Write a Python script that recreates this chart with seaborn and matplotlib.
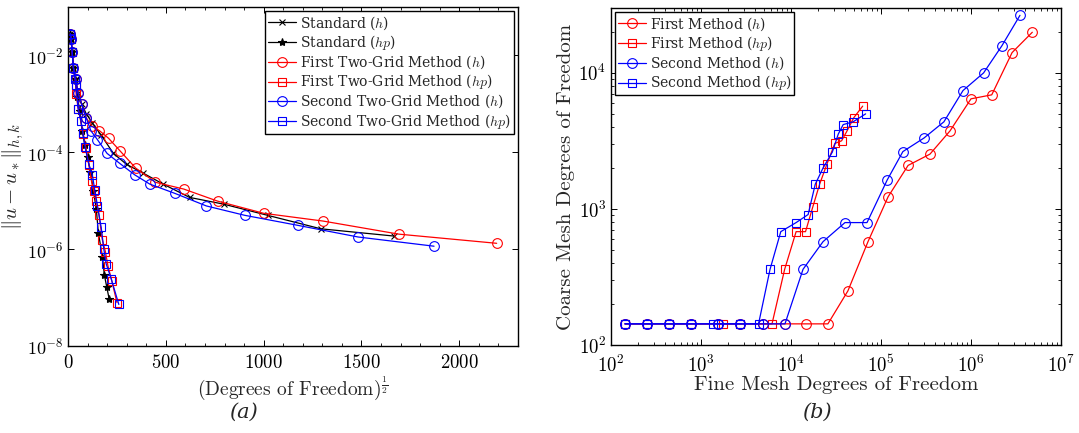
import numpy as np
import matplotlib
matplotlib.use("Agg")
import matplotlib.pyplot as plt
import seaborn as sns
from matplotlib.ticker import FixedLocator, NullLocator, MultipleLocator, LogLocator, NullFormatter

# ---------------- data ----------------
# Standard method (fine DOF, error)
std_h_dof = [143, 249, 441, 767, 1556, 2712, 4850, 8570, 15600, 28900, 53800, 90000,
             148000, 237000, 386000, 632000, 1040000, 1670000, 2780000]
std_h_err = [2.82e-2, 2.14e-2, 1.2e-2, 5.6e-3, 3.2e-3, 1.66e-3, 1.0e-3, 6.3e-4, 4.0e-4,
             2.24e-4, 9.5e-5, 5.6e-5, 3.7e-5, 2.2e-5, 1.17e-5, 8.5e-6, 5.0e-6, 2.63e-6, 1.86e-6]

std_hp_dof = [143, 249, 441, 767, 1350, 2300, 3600, 5200, 7400, 10000, 13200, 16900,
              21000, 24000, 31000, 34600, 39200, 44100]
std_hp_err = [2.82e-2, 2.14e-2, 1.2e-2, 5.6e-3, 3.2e-3, 1.41e-3, 7.1e-4, 2.8e-4, 1.41e-4,
              7.9e-5, 4.0e-5, 1.58e-5, 6.6e-6, 2.2e-6, 6.9e-7, 2.9e-7, 1.66e-7, 9.5e-8]

# First two-grid method (h)
first_h_fine = [143, 249, 441, 767, 1556, 2712, 4850, 8570, 14700, 25700, 42900, 71700,
                120000, 200000, 350000, 585000, 1000000, 1700000, 2860000, 4800000]
first_h_coarse = [143, 143, 143, 143, 143, 143, 143, 143, 143, 143, 250, 575,
                  1230, 2090, 2530, 3750, 6450, 6900, 14100, 19900]
first_h_err = [2.82e-2, 2.14e-2, 1.2e-2, 5.6e-3, 3.2e-3, 1.66e-3, 1.0e-3, 5.2e-4, 3.5e-4,
               2.8e-4, 1.95e-4, 1.05e-4, 4.7e-5, 2.4e-5, 1.74e-5, 9.8e-6, 5.5e-6, 3.8e-6,
               2.04e-6, 1.32e-6]

# First two-grid method (hp)
first_hp_fine = [143, 249, 441, 767, 1550, 1740, 2710, 6150, 8500, 11400, 14500, 17500,
                 20800, 25100, 30700, 36500, 41700, 50000, 62600]
first_hp_coarse = [143, 143, 143, 143, 143, 143, 143, 143, 360, 681, 681, 1040,
                   1520, 2140, 3030, 3170, 3720, 4700, 5700]
first_hp_err = [2.82e-2, 2.14e-2, 1.2e-2, 5.6e-3, 2.5e-3, 1.58e-3, 7.9e-4, 2.4e-4, 1.2e-4,
                5.4e-5, 2.5e-5, 1.58e-5, 1.0e-5, 5.0e-6, 1.58e-6, 8.9e-7, 4.5e-7, 2.24e-7, 7.9e-8]

# Second two-grid method (h)
second_h_fine = [143, 249, 441, 767, 1556, 2712, 4850, 8570, 13600, 22700, 39800, 69900,
                 117000, 175000, 300000, 500000, 815000, 1380000, 2200000, 3500000]
second_h_coarse = [143, 143, 143, 143, 143, 143, 143, 143, 360, 575, 794, 794,
                   1630, 2640, 3320, 4370, 7420, 10000, 15800, 26500]
second_h_err = [2.82e-2, 2.14e-2, 1.2e-2, 5.6e-3, 3.2e-3, 1.66e-3, 1.0e-3, 5.2e-4, 2.8e-4,
                1.82e-4, 9.5e-5, 5.9e-5, 3.4e-5, 2.2e-5, 1.41e-5, 7.8e-6, 5.0e-6, 3.1e-6,
                1.78e-6, 1.15e-6]

# Second two-grid method (hp)
second_hp_fine = [143, 249, 441, 767, 1350, 1550, 2710, 4360, 5850, 7700, 11400, 15500,
                  18600, 22700, 28800, 33500, 38000, 49000, 67500]
second_hp_coarse = [143, 143, 143, 143, 143, 143, 143, 143, 360, 681, 794, 910,
                    1520, 2000, 2620, 3550, 4170, 4370, 5000]
second_hp_err = [2.82e-2, 2.14e-2, 1.2e-2, 5.6e-3, 3.2e-3, 2.5e-3, 7.9e-4, 4.5e-4, 2.5e-4,
                 1.26e-4, 5.6e-5, 3.4e-5, 1.7e-5, 7.9e-6, 2.8e-6, 1.0e-6, 5.0e-7, 2.4e-7, 7.2e-8]

left_labels = ["Standard ($h$)", "Standard ($hp$)", "First Two-Grid Method ($h$)",
               "First Two-Grid Method ($hp$)", "Second Two-Grid Method ($h$)",
               "Second Two-Grid Method ($hp$)"]
right_labels = ["First Method ($h$)", "First Method ($hp$)",
                "Second Method ($h$)", "Second Method ($hp$)"]

# ---------------- style ----------------
sns.set_style("ticks")
plt.rcParams.update({
    "font.family": ["cmr10", "DejaVu Serif"],
    "mathtext.fontset": "cm",
    "axes.formatter.use_mathtext": True,
    "axes.unicode_minus": False,
    "xtick.direction": "in",
    "ytick.direction": "in",
    "xtick.top": True,
    "ytick.right": True,
    "axes.edgecolor": "black",
    "axes.linewidth": 1.0,
    "xtick.color": "black",
    "ytick.color": "black",
    "xtick.major.size": 4,
    "ytick.major.size": 4,
    "xtick.minor.size": 2,
    "ytick.minor.size": 2,
    "xtick.major.width": 0.7,
    "ytick.major.width": 0.7,
    "xtick.minor.width": 0.6,
    "ytick.minor.width": 0.6,
})

fig = plt.figure(figsize=(10.79, 4.33), dpi=100)
axL = fig.add_axes([68 / 1079, 1 - 346 / 433, 450 / 1079, 339 / 433])
axR = fig.add_axes([611 / 1079, 1 - 345 / 433, 450 / 1079, 337 / 433])

lw = 0.9


def draw(ax, x, y, color, marker, label, ms, mfc="none"):
    sns.lineplot(x=np.asarray(x, float), y=np.asarray(y, float), ax=ax, sort=False,
                 estimator=None, color=color, lw=lw, marker=marker, markersize=ms,
                 markerfacecolor=mfc, markeredgecolor=color, markeredgewidth=0.8,
                 label=label)


leg_kw = dict(prop={"family": "DejaVu Serif", "size": 10}, frameon=True, fancybox=False,
              edgecolor="k", framealpha=1, handlelength=2.0, handletextpad=0.3,
              borderaxespad=0.3, labelspacing=0.1, borderpad=0.2)

# ---------------- left panel ----------------
draw(axL, np.sqrt(std_h_dof), std_h_err, "k", "x", left_labels[0], 4.5)
draw(axL, np.sqrt(std_hp_dof), std_hp_err, "k", "*", left_labels[1], 6, mfc="k")
draw(axL, np.sqrt(first_h_fine), first_h_err, "r", "o", left_labels[2], 7)
draw(axL, np.sqrt(first_hp_fine), first_hp_err, "r", "s", left_labels[3], 6)
draw(axL, np.sqrt(second_h_fine), second_h_err, "b", "o", left_labels[4], 7)
draw(axL, np.sqrt(second_hp_fine), second_hp_err, "b", "s", left_labels[5], 6)

axL.set_yscale("log")
axL.set_xlim(0, 2300)
axL.set_ylim(1e-8, 1e-1)
axL.yaxis.set_major_locator(FixedLocator([1e-8, 1e-6, 1e-4, 1e-2]))
axL.yaxis.set_minor_locator(NullLocator())
axL.xaxis.set_major_locator(FixedLocator([0, 500, 1000, 1500, 2000]))
axL.xaxis.set_minor_locator(MultipleLocator(100))
axL.tick_params(labelsize=13.5)
axL.tick_params(axis="x", pad=6)
axL.tick_params(axis="y", pad=3, labelsize=13)
axL.set_xlabel(r"(Degrees of Freedom)$^{\frac{1}{2}}$", fontsize=14)
axL.xaxis.set_label_coords(0.5, -0.082)
axL.set_ylabel(r"$\|u - u_*\|_{h,k}$", fontsize=15)
axL.yaxis.set_label_coords(-0.094, 0.5)
legL = axL.legend(loc="upper right", **leg_kw)
legL.get_frame().set_linewidth(1.0)

# ---------------- right panel ----------------
draw(axR, first_h_fine, first_h_coarse, "r", "o", right_labels[0], 7)
draw(axR, first_hp_fine, first_hp_coarse, "r", "s", right_labels[1], 6)
draw(axR, second_h_fine, second_h_coarse, "b", "o", right_labels[2], 7)
draw(axR, second_hp_fine, second_hp_coarse, "b", "s", right_labels[3], 6)

axR.set_xscale("log")
axR.set_yscale("log")
axR.set_xlim(1e2, 1e7)
axR.set_ylim(1e2, 3e4)
axR.xaxis.set_major_locator(LogLocator(base=10, numticks=10))
axR.xaxis.set_minor_locator(LogLocator(base=10, subs=np.arange(2, 10), numticks=20))
axR.xaxis.set_minor_formatter(NullFormatter())
axR.yaxis.set_major_locator(FixedLocator([1e2, 1e3, 1e4]))
axR.yaxis.set_minor_locator(LogLocator(base=10, subs=np.arange(2, 10), numticks=20))
axR.yaxis.set_minor_formatter(NullFormatter())
axR.tick_params(labelsize=13.5)
axR.tick_params(axis="x", pad=7)
axR.set_xlabel("Fine Mesh Degrees of Freedom", fontsize=15)
axR.xaxis.set_label_coords(0.5, -0.092)
axR.set_ylabel("Coarse Mesh Degrees of Freedom", fontsize=15)
axR.yaxis.set_label_coords(-0.08, 0.5)
legR = axR.legend(loc="upper left", **leg_kw)
legR.get_frame().set_linewidth(1.0)

# sub-captions
fig.text(243 / 1079, 1 - 412 / 433, "(a)", fontsize=15, style="italic",
         family="DejaVu Serif", ha="center", va="center")
fig.text(817 / 1079, 1 - 412 / 433, "(b)", fontsize=15, style="italic",
         family="DejaVu Serif", ha="center", va="center")

fig.savefig("out.png", dpi=100)
